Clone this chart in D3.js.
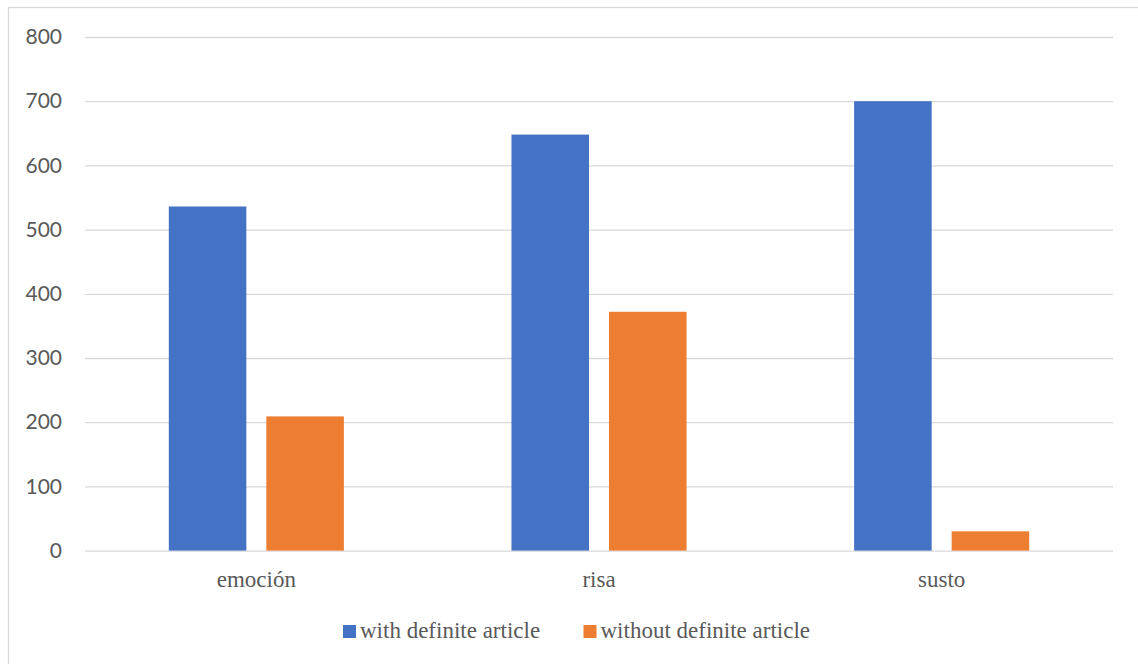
<!DOCTYPE html>
<html>
<head>
<meta charset="utf-8">
<script src="https://cdn.jsdelivr.net/npm/d3@7"></script>
<style>
  html, body { margin: 0; padding: 0; background: #ffffff; }
  svg { display: block; }
  .serif { font-family: "Liberation Serif", "Times New Roman", Times, "DejaVu Serif", "Noto Serif", serif; }
</style>
</head>
<body>
<svg id="chart" width="1138" height="664"></svg>
<script>
const categories = ["emoción", "risa", "susto"];
const seriesNames = ["with definite article", "without definite article"];
const withArticle = [536, 648, 700];
const withoutArticle = [209, 372, 30];
const yTicks = [0, 100, 200, 300, 400, 500, 600, 700, 800];
const colors = ["#4472C4", "#ED7D31"];

const svg = d3.select("#chart");
const plot = { left: 85, right: 1113, top: 37, bottom: 550.6 };

// outer chart border (right/bottom edges fall outside the picture)
svg.append("rect")
  .attr("x", 8.5).attr("y", 7.5)
  .attr("width", 1200).attr("height", 700)
  .attr("fill", "none").attr("stroke", "#d9d9d9").attr("stroke-width", 1.3);

const y = d3.scaleLinear().domain([0, 800]).range([plot.bottom, plot.top]);
const x0 = d3.scaleBand().domain(categories).range([plot.left, plot.right]).padding(0);
const bw = x0.bandwidth();
const outer = 83.8;
const x1 = d3.scaleBand().domain(seriesNames).range([outer, bw - outer]).paddingInner(0.205).paddingOuter(0);

// gridlines
const yAxis = d3.axisLeft(y).tickValues(yTicks).tickSize(-(plot.right - plot.left)).tickPadding(23).tickFormat(d3.format("d"));
const gy = svg.append("g").attr("transform", `translate(${plot.left},0)`).call(yAxis);
gy.select(".domain").remove();
gy.selectAll(".tick line").attr("stroke", "#d9d9d9").attr("stroke-width", 1.3);
gy.selectAll(".tick text")
  .attr("fill", "#595959")
  .style("font-family", "Lato, 'Open Sans', sans-serif")
  .style("font-size", "21px");

// bars
const data = categories.map((c, i) => ({ cat: c, values: [withArticle[i], withoutArticle[i]] }));
const groups = svg.append("g").selectAll("g").data(data).join("g")
  .attr("transform", d => `translate(${x0(d.cat)},0)`);
groups.selectAll("rect")
  .data(d => d.values.map((v, j) => ({ name: seriesNames[j], v, j })))
  .join("rect")
  .attr("x", d => x1(d.name))
  .attr("width", x1.bandwidth())
  .attr("y", d => y(d.v))
  .attr("height", d => y(0) - y(d.v))
  .attr("fill", d => colors[d.j]);

// x axis labels
const xAxis = d3.axisBottom(x0).tickSize(0).tickPadding(0);
const gx = svg.append("g").attr("transform", `translate(0,${plot.bottom})`).call(xAxis);
gx.attr("font-family", null);
gx.select(".domain").remove();
gx.selectAll(".tick text")
  .attr("y", 36).attr("dy", 0)
  .attr("fill", "#595959")
  .attr("class", "serif")
  .style("font-size", "23px");

// legend
const legendItems = [
  { name: seriesNames[0], color: colors[0], sx: 343, tx: 360 },
  { name: seriesNames[1], color: colors[1], sx: 583.5, tx: 600.5 }
];
const lg = svg.append("g");
const li = lg.selectAll("g").data(legendItems).join("g");
li.append("rect")
  .attr("x", d => d.sx).attr("y", 625)
  .attr("width", 13).attr("height", 13)
  .attr("fill", d => d.color);
li.append("text")
  .attr("x", d => d.tx).attr("y", 638)
  .attr("fill", "#595959")
  .attr("class", "serif")
  .style("font-size", "23px")
  .text(d => d.name);
</script>
</body>
</html>
